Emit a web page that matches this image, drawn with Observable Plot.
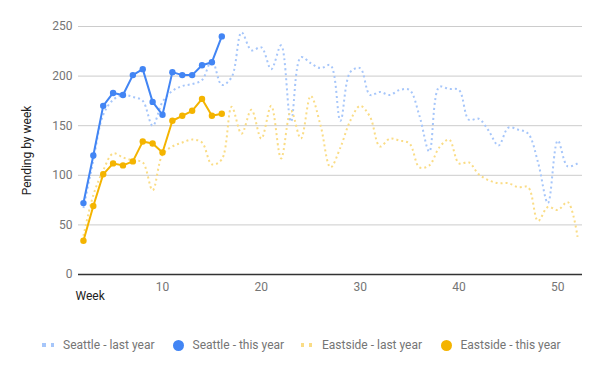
<!DOCTYPE html>
<html><head><meta charset="utf-8">
<script src="https://cdn.jsdelivr.net/npm/d3@7"></script>
<script src="https://cdn.jsdelivr.net/npm/@observablehq/plot@0.6"></script>
<style>
body{margin:0;background:#fff;font-family:Roboto,"Noto Sans",sans-serif}
#wrap{position:relative;width:600px;height:371px;overflow:hidden}
.lt{position:absolute;top:337px;line-height:16px;font-size:12px;color:#757575;white-space:nowrap}
.sq{position:absolute;width:3.4px;height:3.4px;top:343.3px}
.ci{position:absolute;width:11px;height:11px;border-radius:50%;top:339.5px}
</style></head>
<body><div id="wrap"></div>
<script>
// ---- data ----
const seriesNames = ["Seattle - last year", "Seattle - this year", "Eastside - last year", "Eastside - this year"];
const firstWeek = 2;
const seattleLast = [67,115,161,176,181,179,175,150,174,185,190,192,196,216,191,199,244,226,229,207,231,154,219,213,208,211,155,204,208,181,184,181,186,186,160,124,189,187,186,156,157,145,130,148,146,142,113,72,135,109,112];
const eastsideLast = [39,80,105,122,118,115,113,85,121,129,133,136,133,111,116,169,142,166,137,170,117,165,137,180,150,108,128,155,170,159,129,137,135,132,108,110,128,136,112,113,101,95,92,92,88,88,54,68,65,73,38];
const seattleThis = [72,120,170,183,181,201,207,174,161,204,201,201,211,214,240];
const eastsideThis = [34,69,101,112,110,114,134,132,123,155,160,165,177,160,162];
const xTicks = [10,20,30,40,50];
const yTicks = [0,50,100,150,200,250];

const toRows = arr => arr.map((v, i) => ({week: firstWeek + i, value: v}));
const sL = toRows(seattleLast), eL = toRows(eastsideLast), sT = toRows(seattleThis), eT = toRows(eastsideThis);

const BLUE = "#4285F4", ORANGE = "#F4B400";
const BLUE_L = "#a6c6fa", ORANGE_L = "#fadc85";

const chart = Plot.plot({
  width: 600, height: 320,
  marginLeft: 78, marginRight: 18, marginTop: 26, marginBottom: 46,
  style: {fontFamily: "Roboto, 'Noto Sans', sans-serif", fontSize: "12px", color: "#757575", background: "#fff"},
  x: {domain: [1.5, 52.5]},
  y: {domain: [0, 250]},
  marks: [
    Plot.gridY(yTicks.filter(d => d > 0), {stroke: "#cccccc", strokeOpacity: 1, strokeWidth: 1}),
    Plot.axisY({ticks: yTicks, tickSize: 0, tickPadding: 6, label: null, fill: "#757575", fontSize: 12}),
    Plot.axisX({ticks: xTicks, tickSize: 0, tickPadding: 8, label: null, fill: "#757575", fontSize: 12}),
    Plot.ruleY([0], {stroke: "#333", strokeWidth: 1.3}),
    Plot.line(sL, {x: "week", y: "value", stroke: BLUE_L, strokeWidth: 2, strokeDasharray: "2,3", strokeLinecap: "butt", curve: "catmull-rom"}),
    Plot.line(eL, {x: "week", y: "value", stroke: ORANGE_L, strokeWidth: 2, strokeDasharray: "2,3", strokeLinecap: "butt", curve: "catmull-rom"}),
    Plot.line(sT, {x: "week", y: "value", stroke: BLUE, strokeWidth: 2}),
    Plot.dot(sT, {x: "week", y: "value", fill: BLUE, r: 3.2}),
    Plot.line(eT, {x: "week", y: "value", stroke: ORANGE, strokeWidth: 2}),
    Plot.dot(eT, {x: "week", y: "value", fill: ORANGE, r: 3.2}),
    Plot.text(["Week"], {frameAnchor: "bottom-left", dx: -3, dy: 22, textAnchor: "start", lineAnchor: "middle", fill: "#222", fontSize: 12}),
    Plot.text(["Pending by week"], {frameAnchor: "left", dx: -51, rotate: -90, textAnchor: "middle", lineAnchor: "middle", fill: "#222", fontSize: 12})
  ]
});
const wrap = document.getElementById("wrap");
wrap.appendChild(chart);

// ---- legend ----
const legend = [
  {name: seriesNames[0], kind: "dots", color: BLUE_L, sw: 42.3, tx: 63},
  {name: seriesNames[1], kind: "circle", color: BLUE, sw: 178, tx: 192.5},
  {name: seriesNames[2], kind: "dots", color: ORANGE_L, sw: 300.5, tx: 322},
  {name: seriesNames[3], kind: "circle", color: ORANGE, sw: 446, tx: 460.5}
];
for (const it of legend) {
  if (it.kind === "dots") {
    for (const off of [0, 8.4]) {
      const s = document.createElement("div");
      s.className = "sq"; s.style.left = (it.sw + off) + "px"; s.style.background = it.color;
      wrap.appendChild(s);
    }
  } else {
    const c = document.createElement("div");
    c.className = "ci"; c.style.left = (it.sw - 5.5) + "px"; c.style.background = it.color;
    wrap.appendChild(c);
  }
  const t = document.createElement("div");
  t.className = "lt"; t.style.left = it.tx + "px"; t.textContent = it.name;
  wrap.appendChild(t);
}
</script>
</body></html>
